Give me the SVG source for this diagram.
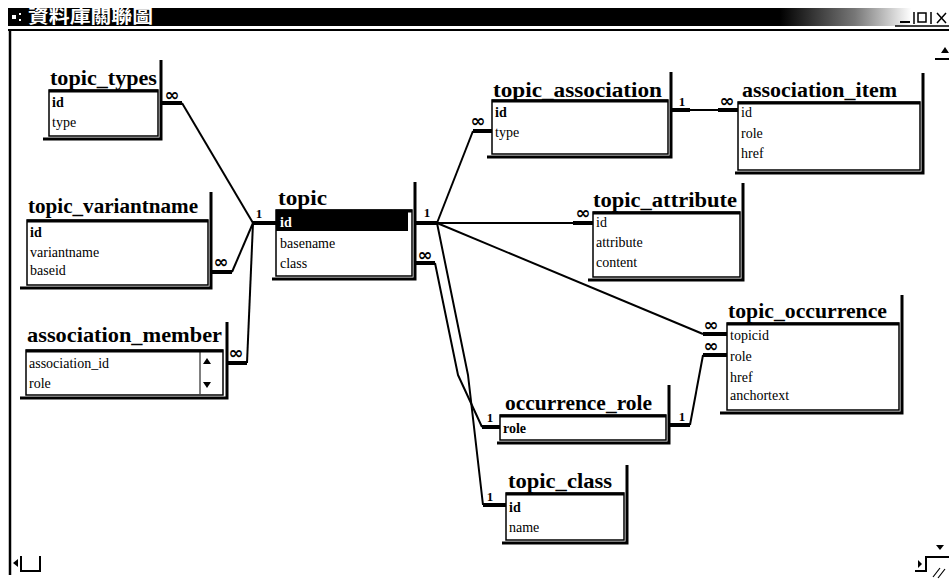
<svg xmlns="http://www.w3.org/2000/svg" width="949" height="579" viewBox="0 0 949 579">
<defs>
<linearGradient id="tb" x1="0" x2="1" y1="0" y2="0">
<stop offset="0" stop-color="#000"/>
<stop offset="0.82" stop-color="#000"/>
<stop offset="0.9" stop-color="#777"/>
<stop offset="0.96" stop-color="#fff"/>
</linearGradient>
<style>
.ttl{font-family:"Liberation Serif","Times New Roman",serif;font-weight:bold;font-size:20px;fill:#000}
.fld{font-family:"Liberation Serif","Times New Roman",serif;font-size:14px;fill:#000}
.pk{font-weight:bold}
.frame{fill:none;stroke:#000;stroke-width:3}
.box{fill:#fff;stroke:#000;stroke-width:1.5}
.top{stroke:#000;stroke-width:3}
.ln{fill:none;stroke:#000;stroke-width:2;stroke-linejoin:round}
.stub{stroke:#000;stroke-width:4}
.inf{font-family:"DejaVu Sans",sans-serif;font-weight:bold;font-size:18px;text-anchor:middle}
.one{font-family:"Liberation Serif",serif;font-weight:bold;font-size:13px;text-anchor:middle}
.win{fill:none;stroke:#000;stroke-width:2}
</style>
</defs>
<rect width="949" height="579" fill="#fff"/>

<g id="window">
<rect x="8" y="8" width="941" height="18" fill="url(#tb)"/>
<rect x="12" y="15" width="4" height="4" fill="#fff"/>
<rect x="19" y="13" width="2" height="2" fill="#fff"/>
<rect x="19" y="19" width="2" height="2" fill="#fff"/>
<text x="28" y="23" fill="#fff" font-family="'Noto Sans CJK TC','Noto Sans CJK SC',sans-serif" font-weight="bold" font-size="18" textLength="125" lengthAdjust="spacingAndGlyphs">資料庫關聯圖</text>
<line x1="900" y1="22" x2="910" y2="22" stroke="#000" stroke-width="2"/>
<line x1="914" y1="12" x2="914" y2="24" stroke="#000" stroke-width="1.5"/>
<rect x="918" y="13" width="8" height="9" fill="none" stroke="#000" stroke-width="1.5"/>
<line x1="931" y1="12" x2="931" y2="24" stroke="#000" stroke-width="1.5"/>
<path d="M937,13 L946,23 M946,13 L937,23" stroke="#000" stroke-width="1.5"/>
<line x1="895" y1="26" x2="949" y2="26" stroke="#000" stroke-width="1.5"/>
<line x1="8" y1="30" x2="949" y2="30" stroke="#000" stroke-width="2"/>
<line x1="10" y1="30" x2="10" y2="575" stroke="#000" stroke-width="2.5"/>
<polygon points="941,53 949,53 945,47" fill="#000"/>
<line x1="935" y1="59" x2="949" y2="59" stroke="#000" stroke-width="2"/>
<polygon points="13,563 18,559 18,567" fill="#000"/>
<path class="win" d="M21,556 V571 H40 V556"/>
<polygon points="936,545 944,545 940,550" fill="#000"/>
<polygon points="918,560 918,568 922,564" fill="#000"/>
<path class="win" d="M915,571 H926 V557 H949"/>
<path d="M933,577 L940,568 M938,578 L945,569" stroke="#000" stroke-width="1.2"/>
</g>

<g id="connectors">
<polyline class="ln" points="182,103 253,223"/>
<line class="stub" x1="161" y1="103" x2="182" y2="103"/>
<line class="stub" x1="253" y1="223" x2="276" y2="223"/>
<text class="inf" x="172" y="101" textLength="15" lengthAdjust="spacingAndGlyphs">∞</text>
<text class="one" x="259" y="218">1</text>

<polyline class="ln" points="232,272 253,223"/>
<line class="stub" x1="211" y1="272" x2="232" y2="272"/>
<text class="inf" x="221" y="268" textLength="15" lengthAdjust="spacingAndGlyphs">∞</text>

<polyline class="ln" points="247,363 253,223"/>
<line class="stub" x1="227" y1="363" x2="247" y2="363"/>
<text class="inf" x="236" y="359" textLength="15" lengthAdjust="spacingAndGlyphs">∞</text>

<line class="stub" x1="415" y1="223" x2="437" y2="223"/>
<text class="one" x="427" y="217">1</text>
<polyline class="ln" points="437,223 473,131"/>
<line class="stub" x1="473" y1="131" x2="492" y2="131"/>
<text class="inf" x="478" y="127" textLength="15" lengthAdjust="spacingAndGlyphs">∞</text>

<line class="ln" x1="437" y1="223" x2="573" y2="223"/>
<line class="stub" x1="573" y1="223" x2="593" y2="223"/>
<text class="inf" x="583" y="219" textLength="15" lengthAdjust="spacingAndGlyphs">∞</text>

<polyline class="ln" points="437,223 703,334"/>
<line class="stub" x1="703" y1="334" x2="727" y2="334"/>
<text class="inf" x="711" y="331" textLength="15" lengthAdjust="spacingAndGlyphs">∞</text>

<line class="stub" x1="415" y1="263" x2="435" y2="263"/>
<text class="inf" x="425" y="261" textLength="15" lengthAdjust="spacingAndGlyphs">∞</text>
<polyline class="ln" points="435,263 458,375 482,427"/>
<line class="stub" x1="482" y1="427" x2="500" y2="427"/>
<text class="one" x="490" y="422">1</text>

<polyline class="ln" points="437,223 468,375 483,505"/>
<line class="stub" x1="483" y1="505" x2="506" y2="505"/>
<text class="one" x="490" y="501">1</text>

<line class="stub" x1="669" y1="425" x2="690" y2="425"/>
<text class="one" x="682" y="421">1</text>
<polyline class="ln" points="690,425 703,355"/>
<line class="stub" x1="703" y1="355" x2="727" y2="355"/>
<text class="inf" x="711" y="352" textLength="15" lengthAdjust="spacingAndGlyphs">∞</text>

<line class="stub" x1="671" y1="110" x2="690" y2="110"/>
<line class="ln" x1="690" y1="110" x2="718" y2="110"/>
<line class="stub" x1="718" y1="110" x2="738" y2="110"/>
<text class="one" x="682" y="106">1</text>
<text class="inf" x="727" y="107" textLength="15" lengthAdjust="spacingAndGlyphs">∞</text>
</g>

<g id="topic_types">
<text class="ttl" x="50" y="85" textLength="107" lengthAdjust="spacingAndGlyphs">topic_types</text>
<rect class="box" x="49" y="90" width="109" height="46"/>
<line class="top" x1="49" y1="91" x2="158" y2="91"/>
<path class="frame" d="M161,60 V139 H43"/>
<text class="fld pk" x="52" y="107">id</text>
<text class="fld" x="52" y="127">type</text>
</g>

<g id="topic_variantname">
<text class="ttl" x="28" y="213" textLength="170" lengthAdjust="spacingAndGlyphs">topic_variantname</text>
<rect class="box" x="27" y="220" width="181" height="65"/>
<line class="top" x1="27" y1="221" x2="208" y2="221"/>
<path class="frame" d="M211,192 V288 H20"/>
<text class="fld pk" x="30" y="237">id</text>
<text class="fld" x="30" y="257">variantname</text>
<text class="fld" x="30" y="275">baseid</text>
</g>

<g id="association_member">
<text class="ttl" x="27" y="342" textLength="195" lengthAdjust="spacingAndGlyphs">association_member</text>
<rect class="box" x="26" y="350" width="197" height="45"/>
<line class="top" x1="26" y1="351" x2="223" y2="351"/>
<path class="frame" d="M227,322 V398 H20"/>
<line x1="200" y1="352" x2="200" y2="394" stroke="#000" stroke-width="1"/>
<polygon points="203,364 211,364 207,358" fill="#000"/>
<polygon points="203,382 211,382 207,388" fill="#000"/>
<text class="fld" x="29" y="368">association_id</text>
<text class="fld" x="29" y="388">role</text>
</g>

<g id="topic">
<text class="ttl" x="278" y="205" textLength="49" lengthAdjust="spacingAndGlyphs">topic</text>
<rect class="box" x="276" y="210" width="136" height="66"/>
<line class="top" x1="276" y1="211" x2="412" y2="211"/>
<rect x="276" y="212" width="132" height="19" fill="#000"/>
<path class="frame" d="M415,182 V279 H272"/>
<text class="fld pk" x="280" y="227" style="fill:#fff">id</text>
<text class="fld" x="280" y="248">basename</text>
<text class="fld" x="280" y="268">class</text>
</g>

<g id="topic_association">
<text class="ttl" x="493" y="97" textLength="169" lengthAdjust="spacingAndGlyphs">topic_association</text>
<rect class="box" x="492" y="100" width="176" height="54"/>
<line class="top" x1="492" y1="101" x2="668" y2="101"/>
<path class="frame" d="M671,72 V157 H487"/>
<text class="fld pk" x="495" y="117">id</text>
<text class="fld" x="495" y="137">type</text>
</g>

<g id="association_item">
<text class="ttl" x="742" y="97" textLength="155" lengthAdjust="spacingAndGlyphs">association_item</text>
<rect class="box" x="738" y="102" width="182" height="68"/>
<line class="top" x1="738" y1="103" x2="920" y2="103"/>
<path class="frame" d="M923,73 V173 H735"/>
<text class="fld" x="741" y="117">id</text>
<text class="fld" x="741" y="138">role</text>
<text class="fld" x="741" y="158">href</text>
</g>

<g id="topic_attribute">
<text class="ttl" x="593" y="207" textLength="144" lengthAdjust="spacingAndGlyphs">topic_attribute</text>
<rect class="box" x="593" y="212" width="147" height="65"/>
<line class="top" x1="593" y1="213" x2="740" y2="213"/>
<path class="frame" d="M743,183 V280 H588"/>
<text class="fld" x="596" y="227">id</text>
<text class="fld" x="596" y="247">attribute</text>
<text class="fld" x="596" y="267">content</text>
</g>

<g id="topic_occurrence">
<text class="ttl" x="728" y="318" textLength="159" lengthAdjust="spacingAndGlyphs">topic_occurrence</text>
<rect class="box" x="727" y="323" width="172" height="87"/>
<line class="top" x1="727" y1="324" x2="899" y2="324"/>
<path class="frame" d="M902,295 V413 H720"/>
<text class="fld" x="730" y="340">topicid</text>
<text class="fld" x="730" y="361">role</text>
<text class="fld" x="730" y="382">href</text>
<text class="fld" x="730" y="400">anchortext</text>
</g>

<g id="occurrence_role">
<text class="ttl" x="505" y="410" textLength="147" lengthAdjust="spacingAndGlyphs">occurrence_role</text>
<rect class="box" x="500" y="415" width="166" height="25"/>
<line class="top" x1="500" y1="416" x2="666" y2="416"/>
<path class="frame" d="M669,385 V443 H497"/>
<text class="fld pk" x="503" y="433">role</text>
</g>

<g id="topic_class">
<text class="ttl" x="508" y="488" textLength="104" lengthAdjust="spacingAndGlyphs">topic_class</text>
<rect class="box" x="506" y="493" width="118" height="47"/>
<line class="top" x1="506" y1="494" x2="624" y2="494"/>
<path class="frame" d="M627,465 V543 H502"/>
<text class="fld pk" x="509" y="512">id</text>
<text class="fld" x="509" y="532">name</text>
</g>
</svg>
